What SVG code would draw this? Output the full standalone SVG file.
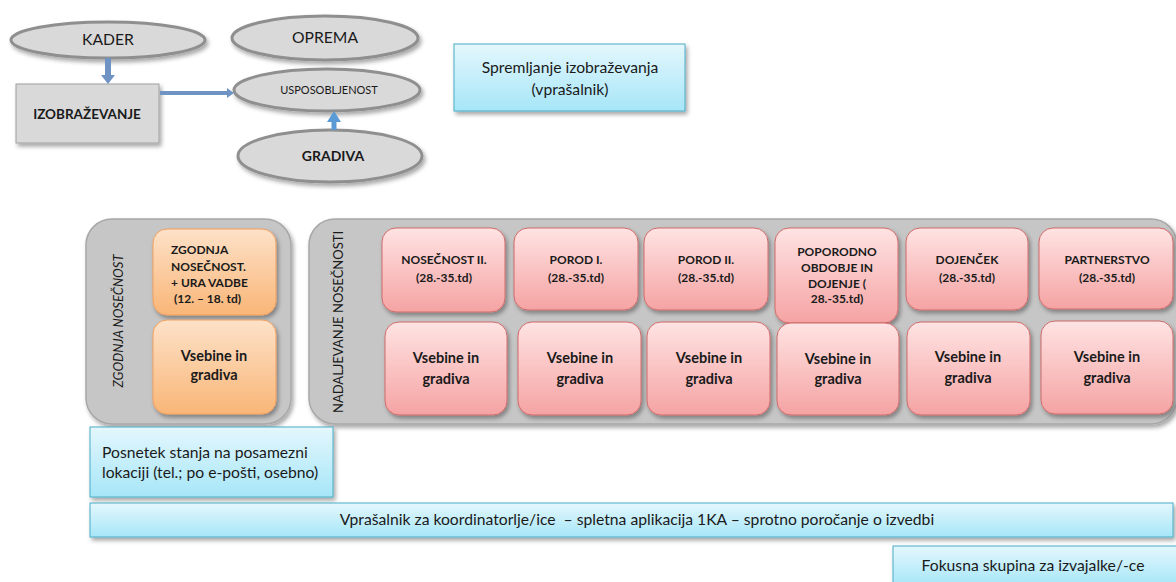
<svg xmlns="http://www.w3.org/2000/svg" width="1176" height="582" viewBox="0 0 1176 582">
<defs>
<filter id="sh" x="-10%" y="-10%" width="130%" height="140%">
<feDropShadow dx="2" dy="3" stdDeviation="2" flood-color="#000" flood-opacity="0.35"/>
</filter>
<linearGradient id="cyan" x1="0" y1="0" x2="0" y2="1">
<stop offset="0" stop-color="#e4f7fd"/>
<stop offset="1" stop-color="#a6e6f8"/>
</linearGradient>
<linearGradient id="orange" x1="0" y1="0" x2="0" y2="1">
<stop offset="0" stop-color="#fde1c8"/>
<stop offset="1" stop-color="#f9b677"/>
</linearGradient>
<linearGradient id="pink" x1="0" y1="0" x2="0" y2="1">
<stop offset="0" stop-color="#ffe3e3"/>
<stop offset="1" stop-color="#f5a3a3"/>
</linearGradient>
</defs>
<style>
text{font-family:Lato,"Open Sans","Liberation Sans",sans-serif;fill:#1a1a1a}
.ell{fill:#d9d9d9;stroke:#8f8f8f;stroke-width:3;filter:url(#sh)}
.gbox{fill:#d9d9d9;stroke:#a0a0a0;stroke-width:1;filter:url(#sh)}
.cy{fill:url(#cyan);stroke:#4bacc6;stroke-width:1;filter:url(#sh)}
.cont{fill:#c6c6c6;stroke:#a8a8a8;stroke-width:1.5;filter:url(#sh)}
.or{fill:url(#orange);stroke:#f0a060;stroke-width:1;filter:url(#sh)}
.pk{fill:url(#pink);stroke:#cf6b6b;stroke-width:1;filter:url(#sh)}
.c{text-anchor:middle}
.b{font-weight:bold}
.s11{font-size:11px}
.s12{font-size:12px}
.s15{font-size:15.7px}
.vs{font-size:14.5px;font-weight:bold;text-anchor:middle}
.hd{font-size:12px;font-weight:bold;text-anchor:middle}
</style>

<g id="kader"><ellipse class="ell" cx="108" cy="40" rx="97" ry="18"/><text class="c s15" x="108" y="45">KADER</text></g>
<g id="oprema"><ellipse class="ell" cx="325" cy="38" rx="93" ry="22"/><text class="c s15" x="325" y="43">OPREMA</text></g>
<g id="usposobljenost"><ellipse class="ell" cx="327" cy="90" rx="93" ry="21"/><text class="c s11" x="329" y="94">USPOSOBLJENOST</text></g>
<g id="gradiva"><ellipse class="ell" cx="330" cy="156" rx="92" ry="26"/><text class="c b" font-size="14" x="333" y="161">GRADIVA</text></g>
<g id="izobrazevanje"><rect class="gbox" x="16" y="84" width="143" height="59"/><text class="c b" font-size="13.5" x="87" y="119">IZOBRAŽEVANJE</text></g>
<g id="spremljanje"><rect class="cy" x="454" y="44" width="231" height="67"/><text class="c s15" x="570" y="73">Spremljanje izobraževanja</text><text class="c s15" x="570" y="95">(vprašalnik)</text></g>

<g id="connectors" fill="none">
<path d="M108,58 V76" stroke="#6f93c2" stroke-width="6"/>
<path d="M101,75 L115,75 L108,84 z" fill="#6f93c2"/>
<path d="M160,93 H228" stroke="#6f93c2" stroke-width="4"/>
<path d="M227,88 L234,93 L227,98 z" fill="#6f93c2"/>
<path d="M334,130 V120" stroke="#5b9bd5" stroke-width="5"/>
<path d="M327,122 L334,111 L341,122 z" fill="#5b9bd5"/>
</g>

<g id="zgodnja-nosecnost">
<rect class="cont" x="86" y="219" width="205" height="205" rx="26"/>
<text transform="translate(123,321) rotate(-90)" class="c" font-size="13" font-style="italic" fill="#3a3a3a">ZGODNJA NOSEČNOST</text>
</g>
<g id="zgodnja-top"><rect class="or" x="153" y="229" width="123" height="86" rx="14"/>
<text class="b s12" x="171" y="254">ZGODNJA</text><text class="b s12" x="171" y="271">NOSEČNOST.</text><text class="b s12" x="171" y="287">+ URA VADBE</text><text class="b s12" x="174" y="303">(12. – 18. td)</text></g>
<g id="zgodnja-vsebine"><rect class="or" x="153" y="320" width="123" height="94" rx="14"/><text class="vs" x="214" y="361">Vsebine in</text><text class="vs" x="214" y="380">gradiva</text></g>

<g id="nadaljevanje-nosecnosti">
<rect class="cont" x="309" y="219" width="868" height="205" rx="26"/>
<text transform="translate(343,322) rotate(-90)" class="c" font-size="13" fill="#2a2a2a">NADALJEVANJE NOSEČNOSTI</text>
</g>

<g id="nosecnost-ii"><rect class="pk" x="382" y="228" width="123" height="84" rx="14"/><text class="hd" x="444" y="264">NOSEČNOST II.</text><text class="hd" x="444" y="282">(28.-35.td)</text></g>
<g id="porod-i"><rect class="pk" x="514" y="228" width="124" height="82" rx="14"/><text class="hd" x="576" y="264">POROD I.</text><text class="hd" x="576" y="282">(28.-35.td)</text></g>
<g id="porod-ii"><rect class="pk" x="644" y="228" width="124" height="82" rx="14"/><text class="hd" x="706" y="264">POROD II.</text><text class="hd" x="706" y="282">(28.-35.td)</text></g>
<g id="poporodno"><rect class="pk" x="775" y="228" width="123" height="95" rx="14"/><text class="hd" x="837" y="256">POPORODNO</text><text class="hd" x="837" y="272">OBDOBJE IN</text><text class="hd" x="837" y="288">DOJENJE (</text><text class="hd" x="837" y="303">28.-35.td)</text></g>
<g id="dojencek"><rect class="pk" x="906" y="228" width="122" height="82" rx="14"/><text class="hd" x="967" y="264">DOJENČEK</text><text class="hd" x="967" y="282">(28.-35.td)</text></g>
<g id="partnerstvo"><rect class="pk" x="1039" y="228" width="134" height="81" rx="14"/><text class="hd" x="1107" y="264">PARTNERSTVO</text><text class="hd" x="1107" y="282">(28.-35.td)</text></g>

<g id="vsebine-1"><rect class="pk" x="385" y="322" width="122" height="93" rx="14"/><text class="vs" x="446" y="363">Vsebine in</text><text class="vs" x="446" y="384">gradiva</text></g>
<g id="vsebine-2"><rect class="pk" x="518" y="322" width="123" height="93" rx="14"/><text class="vs" x="580" y="363">Vsebine in</text><text class="vs" x="580" y="384">gradiva</text></g>
<g id="vsebine-3"><rect class="pk" x="647" y="322" width="123" height="93" rx="14"/><text class="vs" x="709" y="363">Vsebine in</text><text class="vs" x="709" y="384">gradiva</text></g>
<g id="vsebine-4"><rect class="pk" x="777" y="323" width="122" height="92" rx="14"/><text class="vs" x="838" y="364">Vsebine in</text><text class="vs" x="838" y="384">gradiva</text></g>
<g id="vsebine-5"><rect class="pk" x="907" y="322" width="123" height="93" rx="14"/><text class="vs" x="968" y="362">Vsebine in</text><text class="vs" x="968" y="383">gradiva</text></g>
<g id="vsebine-6"><rect class="pk" x="1041" y="321" width="132" height="93" rx="14"/><text class="vs" x="1107" y="362">Vsebine in</text><text class="vs" x="1107" y="383">gradiva</text></g>

<g id="posnetek"><rect class="cy" x="90" y="427" width="243" height="70"/><text class="s15" x="102" y="458">Posnetek stanja na posamezni</text><text class="s15" x="102" y="478">lokaciji (tel.; po e-pošti, osebno)</text></g>
<g id="vprasalnik"><rect class="cy" x="90" y="503" width="1083" height="34"/><text class="c s15" x="637" y="525" xml:space="preserve">Vprašalnik za koordinatorlje/ice  – spletna aplikacija 1KA – sprotno poročanje o izvedbi</text></g>
<g id="fokusna"><rect class="cy" x="893" y="546" width="290" height="40"/><text class="c s15" x="1033" y="571">Fokusna skupina za izvajalke/-ce</text></g>
</svg>
